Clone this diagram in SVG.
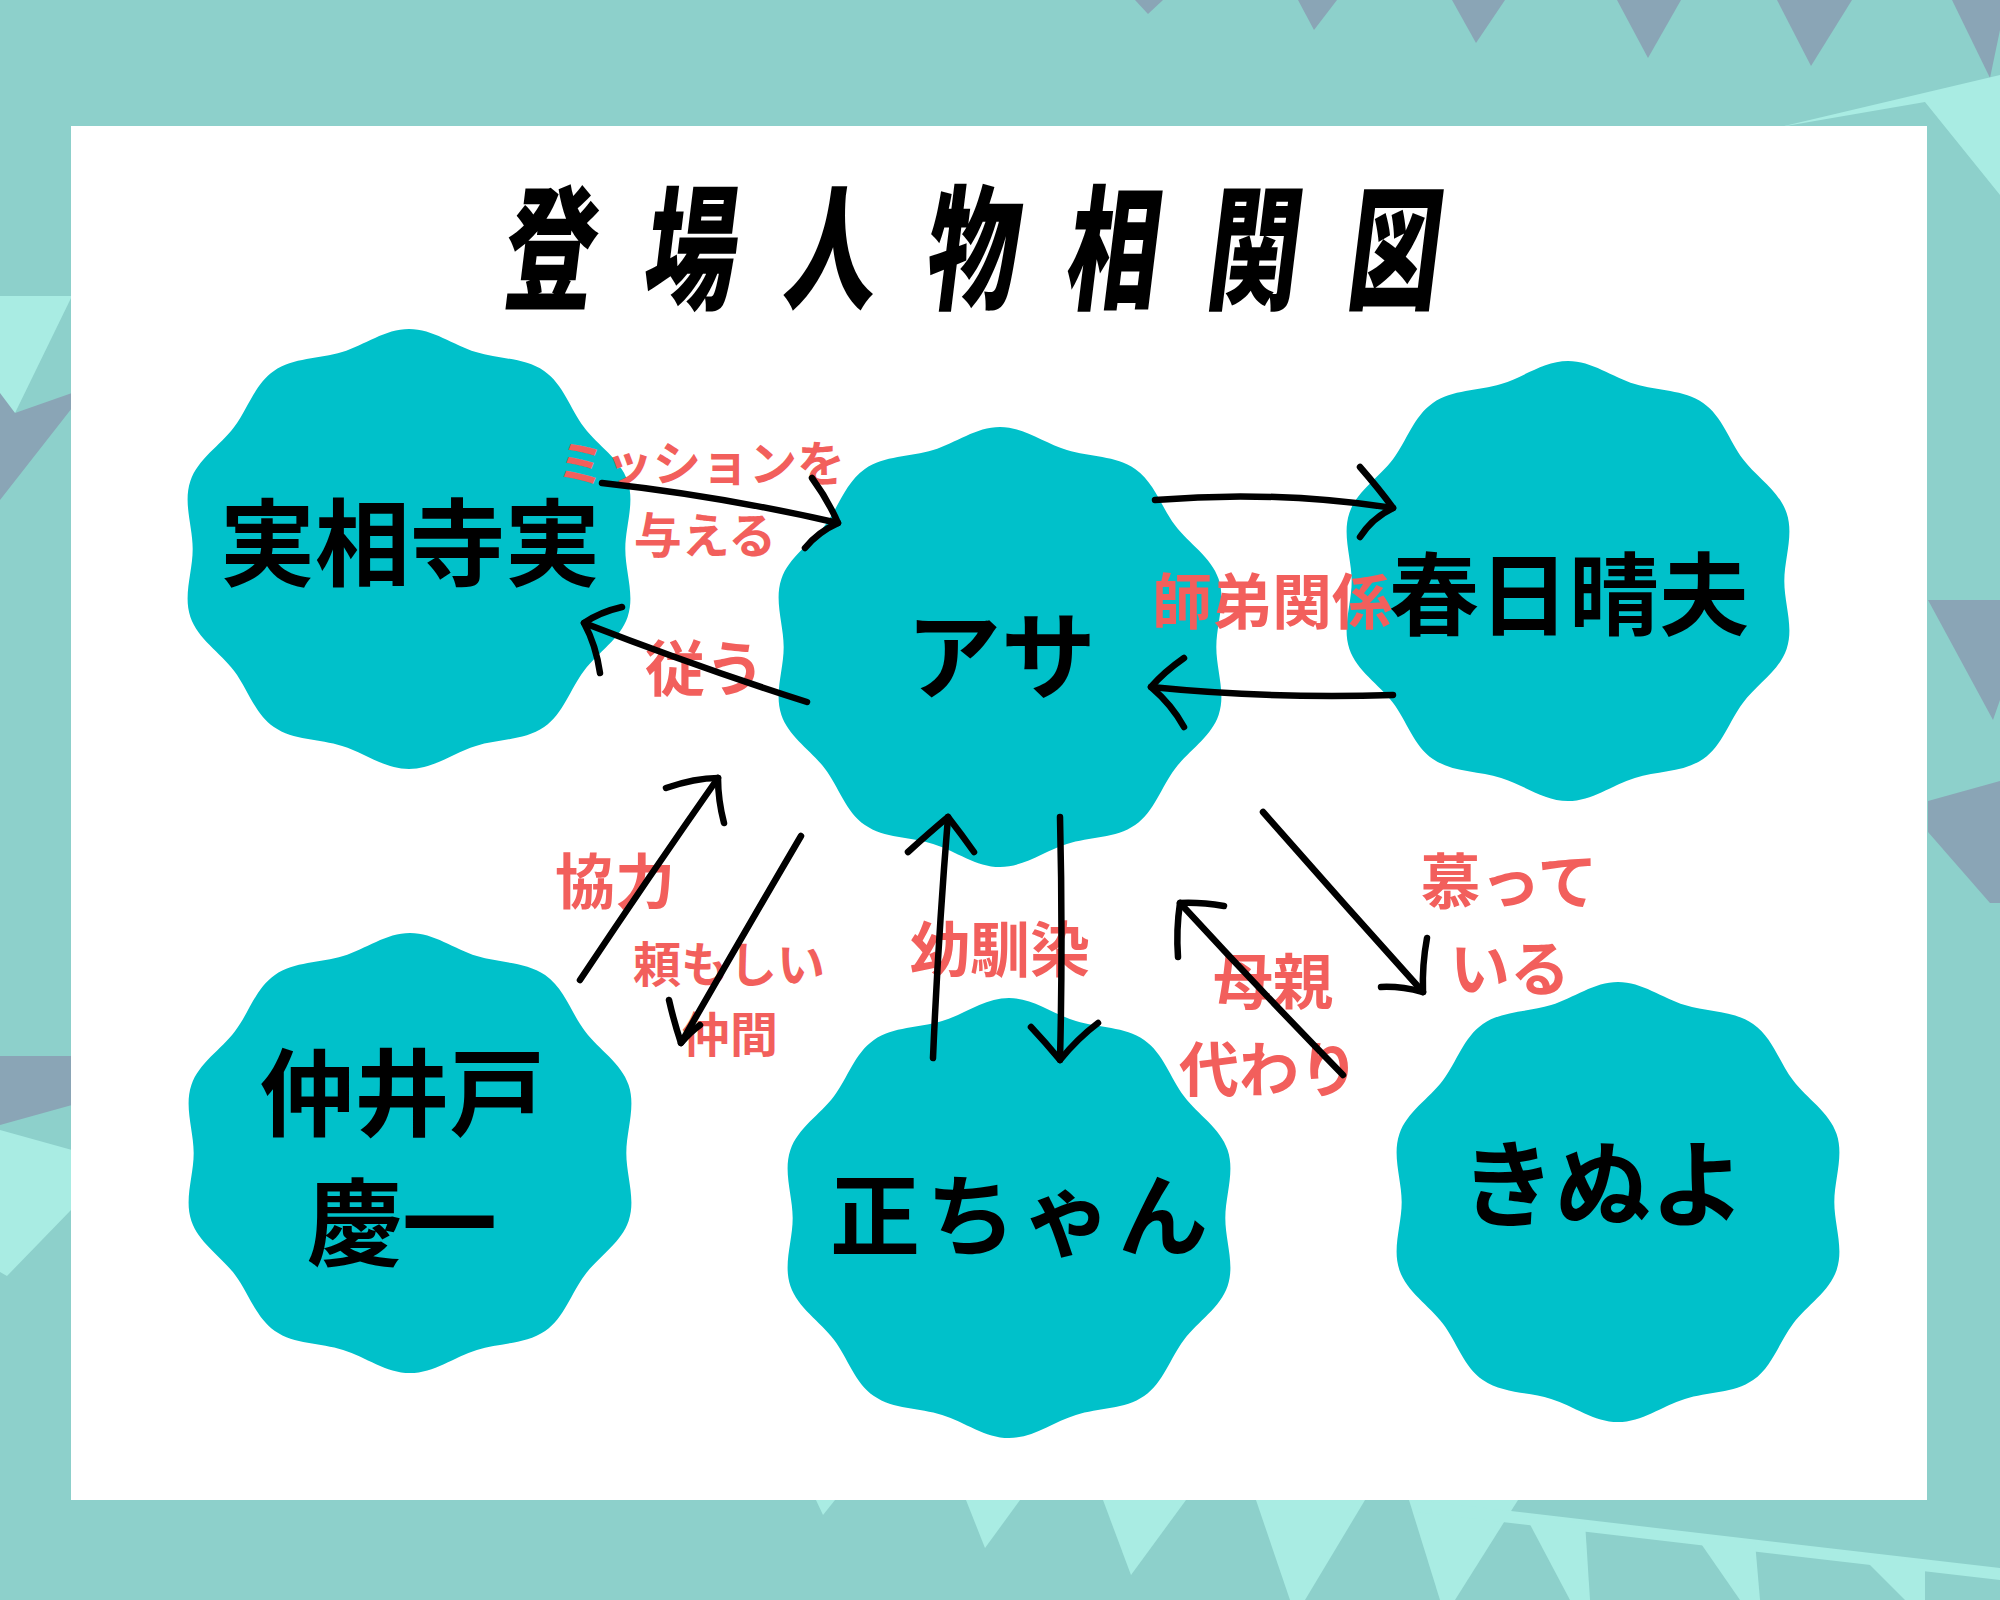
<svg xmlns="http://www.w3.org/2000/svg" xmlns:xlink="http://www.w3.org/1999/xlink" width="2000" height="1600" viewBox="0 0 2000 1600">
<style>
.name{font-family:"Noto Sans CJK JP","Noto Sans",sans-serif;font-weight:700;fill:#000;text-anchor:middle;dominant-baseline:central}
.lbl{font-family:"Noto Sans CJK JP","Noto Sans",sans-serif;font-weight:700;fill:#f25f5c;text-anchor:middle;dominant-baseline:central}
.arrow{fill:none;stroke:#000;stroke-width:6.5;stroke-linecap:round;stroke-linejoin:round}
.dark{fill:#8aa5b6}
.mint{fill:#a9ece3}
.blob{fill:#00c1ca}
</style>
<defs>
<path id="blob" class="blob" d="M0,-220 C23,-220 42.1,-204 64,-196.9 C85.9,-189.8 110.7,-191.5 129.3,-178 C147.9,-164.5 154,-140.3 167.5,-121.7 C181,-103.1 202.1,-89.9 209.2,-68 C216.3,-46.1 207,-23 207,0 C207,23 216.3,46.1 209.2,68 C202.1,89.9 181,103.1 167.5,121.7 C154,140.3 147.9,164.5 129.3,178 C110.7,191.5 85.9,189.8 64,196.9 C42.1,204 23,220 0,220 C-23,220 -42.1,204 -64,196.9 C-85.9,189.8 -110.7,191.5 -129.3,178 C-147.9,164.5 -154,140.3 -167.5,121.7 C-181,103.1 -202.1,89.9 -209.2,68 C-216.3,46.1 -207,23 -207,0 C-207,-23 -216.3,-46.1 -209.2,-68 C-202.1,-89.9 -181,-103.1 -167.5,-121.7 C-154,-140.3 -147.9,-164.5 -129.3,-178 C-110.7,-191.5 -85.9,-189.8 -64,-196.9 C-42.1,-204 -23,-220 0,-220 Z"/>
</defs>

<g id="background">
<rect width="2000" height="1600" fill="#8dd0cb"/>
<polygon class="dark" points="1135,0 1163,0 1148,14"/>
<polygon class="dark" points="1298,0 1337,0 1314,30"/>
<polygon class="dark" points="1452,0 1505,0 1476,43"/>
<polygon class="dark" points="1617,0 1681,0 1648,58"/>
<polygon class="dark" points="1777,0 1852,0 1811,66"/>
<polygon class="dark" points="1952,0 2000,0 2000,30 1990,78"/>
<polygon class="mint" points="1780,127 2000,75 2000,195 1925,102"/>
<polygon class="dark" points="1928,600 2000,600 2000,700 1993,720"/>
<polygon class="dark" points="1928,801 2000,781 2000,903 1990,903 1928,832"/>
<polygon class="mint" points="0,296 72,296 15,413 0,400"/>
<polygon class="dark" points="0,393 15,413 72,393 72,408 0,500"/>
<polygon class="dark" points="0,1056 72,1056 72,1105 0,1125"/>
<polygon class="mint" points="0,1130 72,1150 72,1209 7,1276 0,1272"/>
<polygon class="mint" points="816,1500 835,1500 823,1515"/>
<polygon class="mint" points="966,1500 1020,1500 985,1548"/>
<polygon class="mint" points="1103,1500 1186,1500 1131,1575"/>
<polygon class="mint" points="1256,1500 1365,1500 1305,1600 1290,1600"/>
<polygon class="mint" points="1409,1500 1518,1500 1455,1600 1440,1600"/>
<polygon class="mint" points="1416,1500 2000,1568 2000,1580 1416,1512"/>
<polygon class="mint" points="1525,1515 1585,1522 1590,1600 1570,1600"/>
<polygon class="mint" points="1695,1535 1755,1542 1760,1600 1740,1600"/>
<polygon class="mint" points="1860,1555 1925,1563 1925,1600 1905,1600"/>
</g>

<rect id="panel" x="71" y="126" width="1856" height="1374" fill="#ffffff"/>

<g id="title">
<text transform="translate(1000,240) skewX(-7) scale(0.68,1)" font-family="'Noto Sans CJK JP',sans-serif" font-weight="900" font-size="135" letter-spacing="72" text-anchor="middle" dominant-baseline="central" fill="#000">登場人物相関図</text>
</g>

<g id="nodes">
<g id="node-jissoji"><use xlink:href="#blob" transform="translate(409,549) scale(1.045,1)"/><text class="name" x="410" y="537" font-size="95">実相寺実</text></g>
<g id="node-asa"><use xlink:href="#blob" transform="translate(1000,647) scale(1.045,1)"/><text class="name" x="1001" y="650" font-size="95">アサ</text></g>
<g id="node-kasuga"><use xlink:href="#blob" transform="translate(1568,581) scale(1.045,1)"/><text class="name" x="1569" y="589" font-size="90">春日晴夫</text></g>
<g id="node-naido"><use xlink:href="#blob" transform="translate(410,1153) scale(1.045,1)"/><text class="name" x="402" y="1087" font-size="95">仲井戸</text><text class="name" x="402" y="1217" font-size="95">慶一</text></g>
<g id="node-sho"><use xlink:href="#blob" transform="translate(1009,1218) scale(1.045,1)"/><text class="name" x="1022" y="1210" font-size="90" letter-spacing="6">正ちゃん</text></g>
<g id="node-kinuyo"><use xlink:href="#blob" transform="translate(1618,1202) scale(1.045,1)"/><text class="name" x="1603" y="1178" font-size="95">きぬよ</text></g>
</g>

<g id="connectors">
<g id="edge-mission">
<text class="lbl" x="701" y="460" font-size="48">ミッションを</text>
<text class="lbl" x="705" y="532" font-size="48">与える</text>
<path class="arrow" d="M602,483 Q720,496 838,523"/>
<path class="arrow" d="M812,478 Q828,500 838,523 Q818,532 805,548"/>
</g>
<g id="edge-shitagau">
<text class="lbl" x="705" y="664" font-size="60">従う</text>
<path class="arrow" d="M807,702 Q700,668 584,623"/>
<path class="arrow" d="M622,607 Q600,612 584,623 Q596,645 600,673"/>
</g>
<g id="edge-shitei-1">
<path class="arrow" d="M1155,500 Q1275,490 1393,508"/>
<path class="arrow" d="M1360,467 Q1380,490 1393,508 Q1372,518 1360,537"/>
</g>
<g id="edge-shitei-2">
<text class="lbl" x="1272" y="597" font-size="60">師弟関係</text>
<path class="arrow" d="M1393,695 Q1270,699 1151,687"/>
<path class="arrow" d="M1184,658 Q1164,672 1151,687 Q1172,705 1184,727"/>
</g>
<g id="edge-kyoryoku">
<text class="lbl" x="615" y="877" font-size="60">協力</text>
<path class="arrow" d="M580,980 Q650,875 718,778"/>
<path class="arrow" d="M666,788 Q695,778 718,778 Q718,800 724,823"/>
</g>
<g id="edge-tanomoshii">
<text class="lbl" x="729" y="961" font-size="48">頼もしい</text>
<text class="lbl" x="730" y="1031" font-size="48">仲間</text>
<path class="arrow" d="M801,836 Q740,940 681,1043"/>
<path class="arrow" d="M669,1000 Q674,1022 681,1043 Q690,1032 700,1025"/>
</g>
<g id="edge-osananajimi-1">
<text class="lbl" x="1000" y="945" font-size="60">幼馴染</text>
<path class="arrow" d="M933,1058 Q938,940 948,817"/>
<path class="arrow" d="M908,852 Q930,832 948,817 Q962,835 974,852"/>
</g>
<g id="edge-osananajimi-2">
<path class="arrow" d="M1060,817 Q1063,940 1060,1060"/>
<path class="arrow" d="M1031,1027 Q1046,1043 1060,1060 Q1078,1038 1098,1023"/>
</g>
<g id="edge-hahaoya">
<text class="lbl" x="1273" y="977" font-size="60">母親</text>
<text class="lbl" x="1269" y="1065" font-size="60">代わり</text>
<path class="arrow" d="M1343,1075 Q1260,990 1180,903"/>
<path class="arrow" d="M1224,906 Q1200,902 1180,903 Q1176,930 1178,957"/>
</g>
<g id="edge-shitatte">
<text class="lbl" x="1509" y="877" font-size="60">慕って</text>
<text class="lbl" x="1510" y="964" font-size="60">いる</text>
<path class="arrow" d="M1263,812 Q1342,902 1423,992"/>
<path class="arrow" d="M1427,938 Q1422,965 1423,992 Q1400,986 1381,987"/>
</g>
</g>
</svg>
